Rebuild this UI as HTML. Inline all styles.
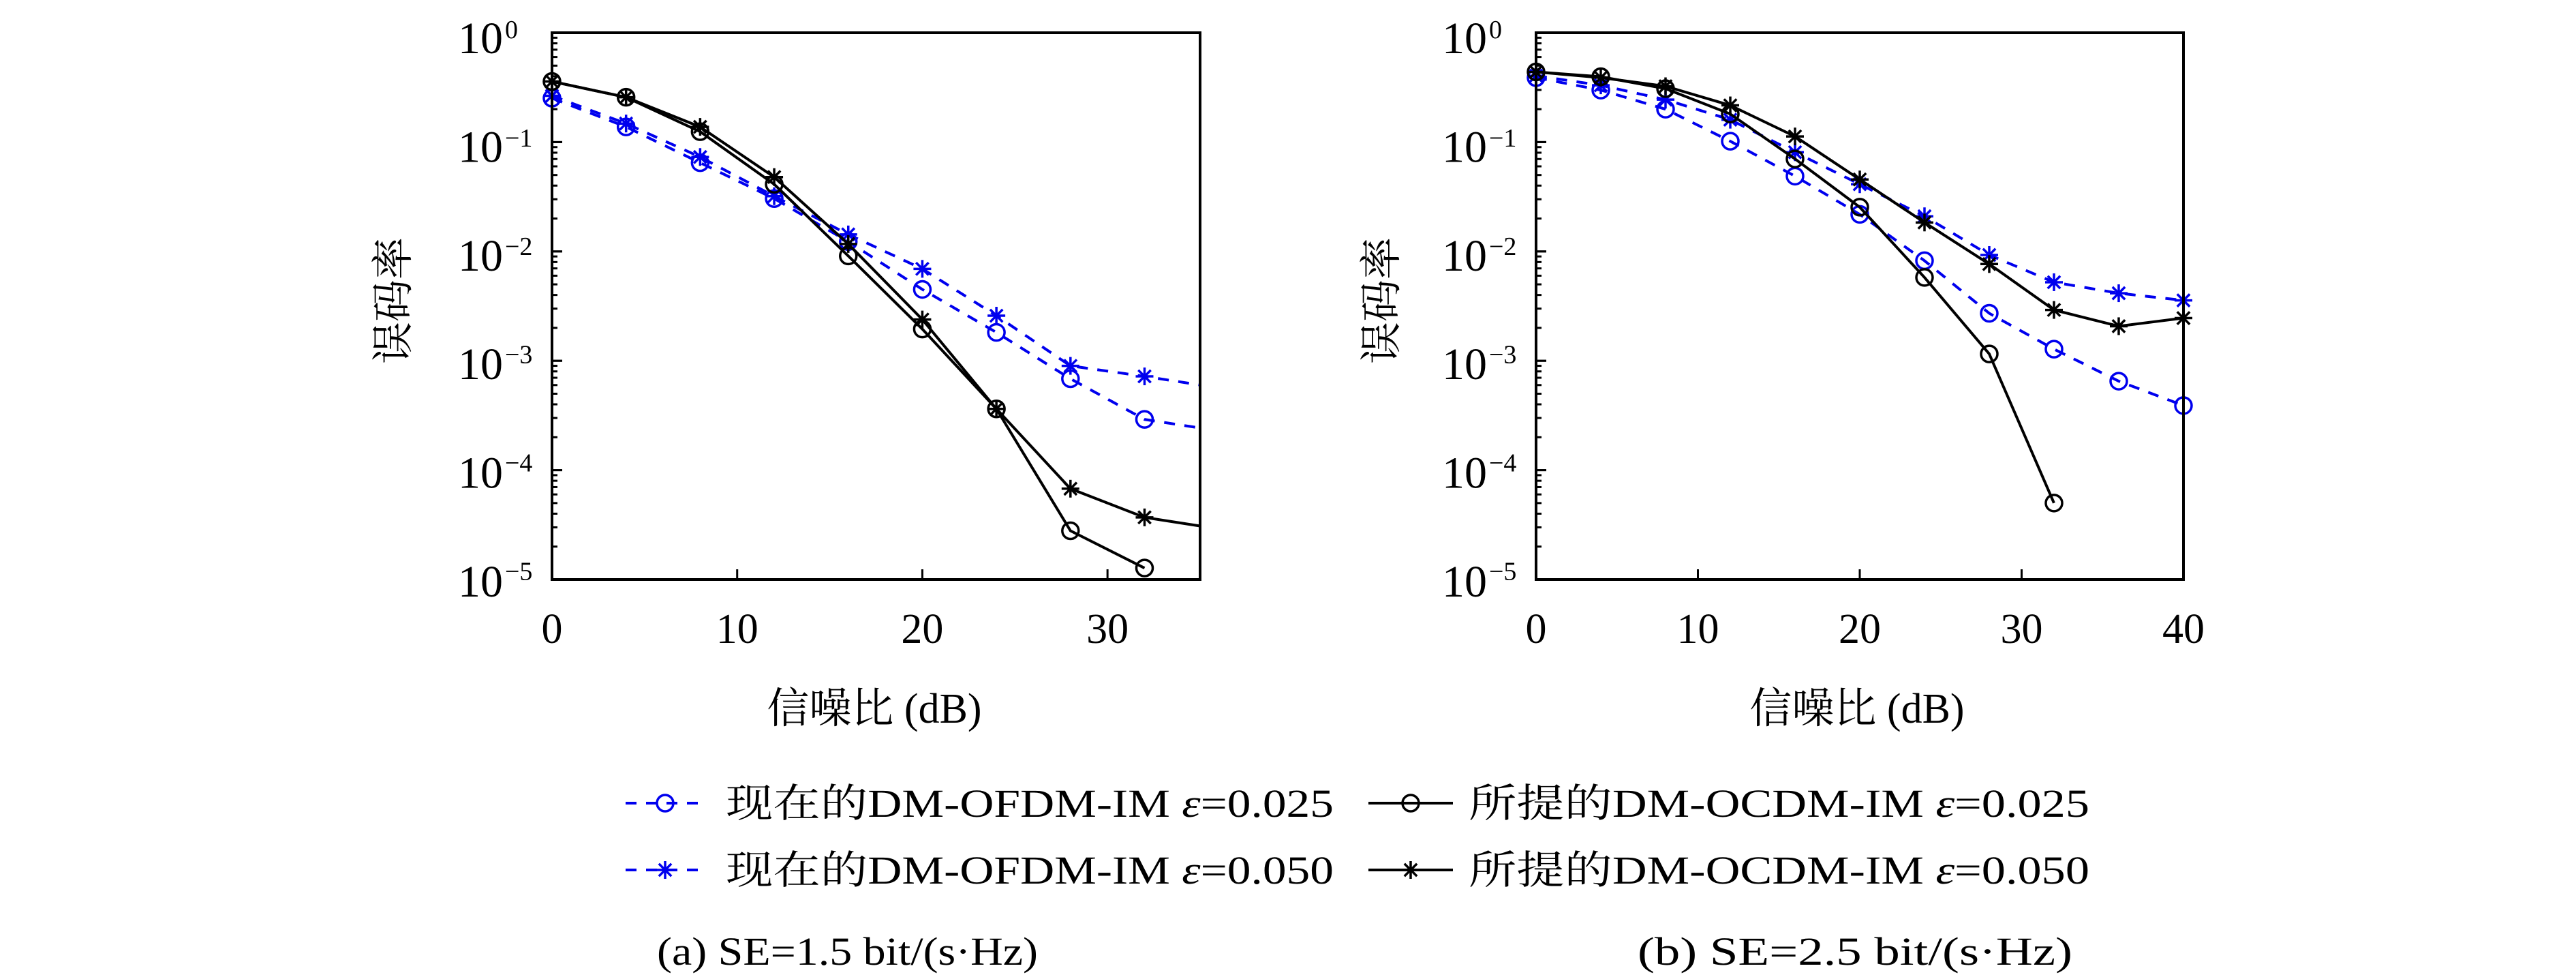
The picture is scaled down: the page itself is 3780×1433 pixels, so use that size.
<!DOCTYPE html>
<html><head><meta charset="utf-8"><style>
html,body{margin:0;padding:0;background:#fff;}
svg{display:block;}
text{font-family:"Liberation Serif","Noto Serif CJK SC",serif;fill:#000;}
</style></head><body>
<svg id="s" width="3780" height="1433" viewBox="0 0 3780 1433" xmlns="http://www.w3.org/2000/svg">
<rect width="3780" height="1433" fill="#fff"/>
<g id="p1"></g><g id="p2"></g>
<g id="labels" font-size="66"></g>
<text x="1283" y="1060" font-size="62" text-anchor="middle">信噪比 (dB)</text>
<text transform="translate(598,441) rotate(-90)" font-size="62" text-anchor="middle">误码率</text>
<text x="2725" y="1060" font-size="62" text-anchor="middle">信噪比 (dB)</text>
<text transform="translate(2048,441) rotate(-90)" font-size="62" text-anchor="middle">误码率</text>
<g id="leg"></g>
<g font-size="58">
<text x="1065" y="1198" textLength="892" lengthAdjust="spacingAndGlyphs">现在的DM-OFDM-IM <tspan font-style="italic">ε</tspan>=0.025</text>
<text x="1065" y="1296" textLength="892" lengthAdjust="spacingAndGlyphs">现在的DM-OFDM-IM <tspan font-style="italic">ε</tspan>=0.050</text>
<text x="2155" y="1198" textLength="911" lengthAdjust="spacingAndGlyphs">所提的DM-OCDM-IM <tspan font-style="italic">ε</tspan>=0.025</text>
<text x="2155" y="1296" textLength="911" lengthAdjust="spacingAndGlyphs">所提的DM-OCDM-IM <tspan font-style="italic">ε</tspan>=0.050</text>
<text x="964" y="1415" textLength="559" lengthAdjust="spacingAndGlyphs">(a) SE=1.5 bit/(s·Hz)</text>
<text x="2403" y="1415" textLength="638" lengthAdjust="spacingAndGlyphs">(b) SE=2.5 bit/(s·Hz)</text>
</g>
</svg>
<script>
var NS="http://www.w3.org/2000/svg";
function el(p,t,a,txt){var e=document.createElementNS(NS,t);for(var k in a)e.setAttribute(k,a[k]);if(txt!==undefined)e.textContent=txt;p.appendChild(e);return e;}
function circ(g,x,y,c){el(g,"circle",{cx:x,cy:y,r:12,fill:"none",stroke:c,"stroke-width":3.5});}
function star(g,x,y,c){var r=13;for(var i=0;i<4;i++){var a=i*Math.PI/4;el(g,"line",{x1:x-r*Math.cos(a),y1:y-r*Math.sin(a),x2:x+r*Math.cos(a),y2:y+r*Math.sin(a),stroke:c,"stroke-width":3.5});}}
var T=48,B=850,D=(B-T)/5;
function Y(z){return T+(z-68)*(B-T)/1144;}
var lab=document.getElementById("labels");
var sup=["0","−1","−2","−3","−4","−5"];
function panel(id,L,R,xmax,ser){
 var g=document.getElementById(id);
 var k=(R-L)/xmax;
 for(var dcd=0;dcd<5;dcd++){
  for(var m=1;m<=10;m++){
   var y=B-(dcd+Math.log10(m))*D; var len=(m==1||m==10)?15:8;
   el(g,"line",{x1:L,y1:y,x2:L+len,y2:y,stroke:"#000","stroke-width":3});
  }
 }
 for(var i=0;i<=5;i++){
  var ty=T+i*D, off=30-i*1;
  el(lab,"text",{x:L-72,y:ty+off,"text-anchor":"end"},"10");
  el(lab,"text",{x:L-69,y:ty+8-i*1.5,"font-size":38},sup[i]);
 }
 for(var t=0;t<=xmax;t+=10){var x=L+t*k;
  if(t>0&&t<xmax)el(g,"line",{x1:x,y1:B,x2:x,y2:B-15,stroke:"#000","stroke-width":3});
  el(lab,"text",{x:x,y:943,"text-anchor":"middle","font-size":62},String(t));}
 ser.forEach(function(s){
  var pts=s.y.map(function(z,i){return [L+i*4*k, Y(z)];});
  if(s.end!==undefined) pts.push([R,Y(s.end)]);
  var attrs={points:pts.map(function(p){return p.join(",")}).join(" "),fill:"none",stroke:s.c,"stroke-width":4};
  if(s.dash)attrs["stroke-dasharray"]="16 14";
  el(g,"polyline",attrs);
  s.y.forEach(function(z,i){var x=L+i*4*k,y=Y(z); if(s.m=="o")circ(g,x,y,s.c);else star(g,x,y,s.c);});
 });
 el(g,"rect",{x:L,y:T,width:R-L,height:B-T,fill:"none",stroke:"#000","stroke-width":4});
}
var BL="#0000ee",K="#000";
panel("p1",810,1761,35,[
 {c:BL,dash:1,m:"o",y:[205,265,340,415,505,605,695,792,877],end:895},
 {c:BL,dash:1,m:"*",y:[200,258,328,410,490,562,660,765,787],end:805},
 {c:K,m:"o",y:[170,203,275,385,535,688,855,1110,1188]},
 {c:K,m:"*",y:[170,203,265,370,510,668,855,1022,1082],end:1100}
]);
panel("p2",2254,3204,40,[
 {c:BL,dash:1,m:"o",y:[162,188,228,295,368,448,545,655,730,797,848]},
 {c:BL,dash:1,m:"*",y:[158,178,208,250,318,385,452,533,590,613,628]},
 {c:K,m:"o",y:[150,160,185,238,332,433,580,740,1052]},
 {c:K,m:"*",y:[150,162,180,220,285,375,465,552,648,682,665]}
]);
var lg=document.getElementById("leg");
[[1178,"o"],[1276,"*"]].forEach(function(r){
 el(lg,"line",{x1:918,y1:r[0],x2:1029,y2:r[0],stroke:BL,"stroke-width":4,"stroke-dasharray":"16 14"});
 if(r[1]=="o")circ(lg,976,r[0],BL);else star(lg,976,r[0],BL);
 el(lg,"line",{x1:2008,y1:r[0],x2:2132,y2:r[0],stroke:K,"stroke-width":4});
 if(r[1]=="o")circ(lg,2070,r[0],K);else star(lg,2070,r[0],K);
});
</script>
</body></html>
